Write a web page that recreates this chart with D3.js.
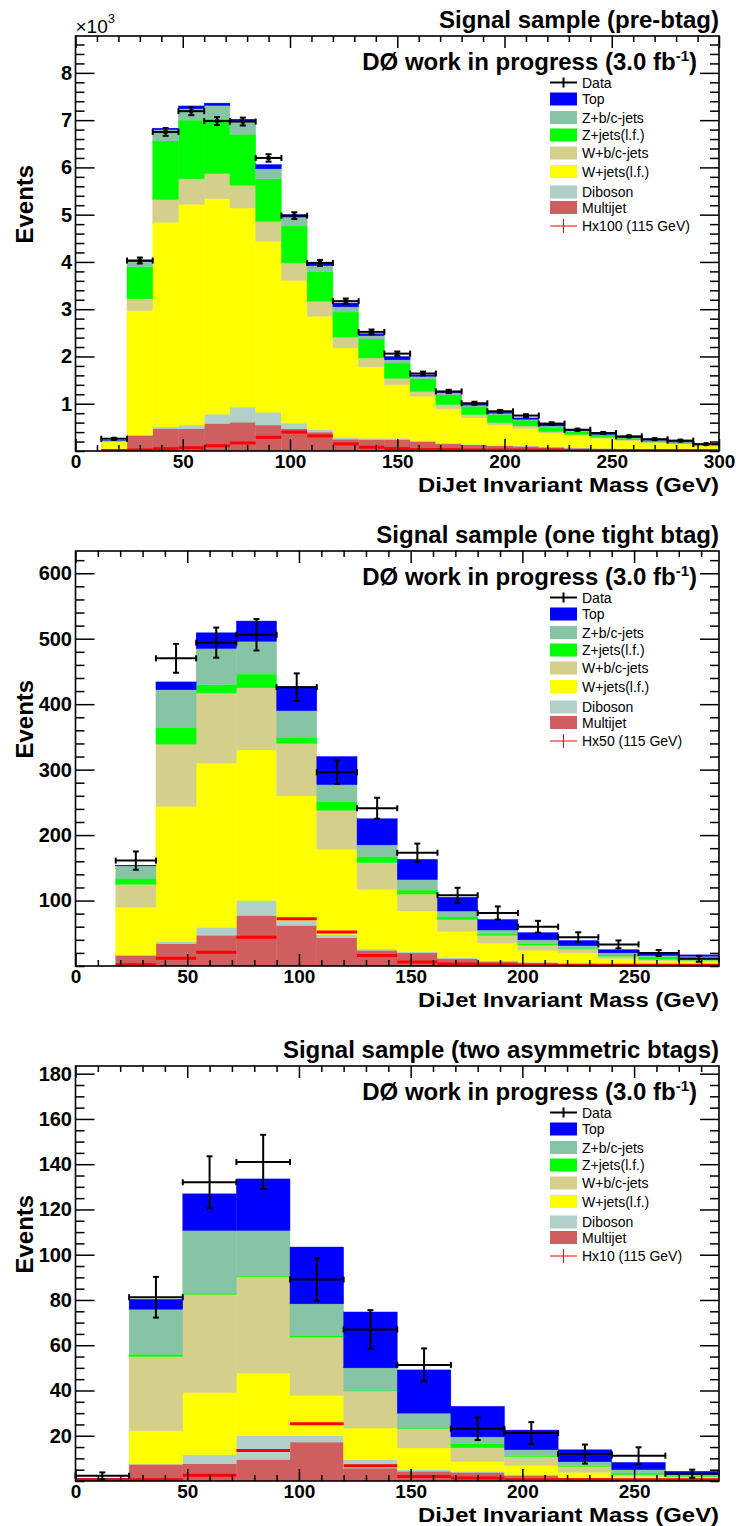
<!DOCTYPE html>
<html><head><meta charset="utf-8">
<script src="https://cdn.jsdelivr.net/npm/d3@7"></script>
<style>
body{margin:0;background:#fff}
svg{display:block}
text{font-family:"Liberation Sans",Arial,Helvetica,sans-serif}
</style>
</head><body>
<svg id="c" width="736" height="1526"></svg>
<script>
// ---------- categories / labels ----------
const stackKeys = ["Multijet","Diboson","Wlf","Wbc","Zlf","Zbc","Top"];
const stackColors = ["#cf5e5e","#b1d0c8","#ffff00","#d4cf8a","#00ff00","#87c3a5","#0000ff"];
const legendLabels = ["Data","Top","Z+b/c-jets","Z+jets(l.f.)","W+b/c-jets","W+jets(l.f.)","Diboson","Multijet"];
const legendColors = [null,"#0000ff","#87c3a5","#00ff00","#d4cf8a","#ffff00","#b1d0c8","#cf5e5e"];

// ---------- panel 1: pre-btag (values in 10^3 events), bins 12 GeV ----------
const p1Bins = [0,12,24,36,48,60,72,84,96,108,120,132,144,156,168,180,192,204,216,228,240,252,264,276,288];
const p1Multijet = [0,0.01,0.33,0.47,0.47,0.58,0.61,0.55,0.47,0.40,0.25,0.24,0.24,0.20,0.15,0.13,0.11,0.10,0.08,0.06,0.05,0.04,0.03,0.03,0.02];
const p1Diboson = [0,0,0.01,0.04,0.08,0.20,0.32,0.27,0.12,0.05,0.04,0.03,0.03,0.02,0.02,0.01,0.01,0.01,0.01,0.01,0.01,0.01,0.01,0.005,0.005];
const p1Wlf = [0,0.18,2.63,4.33,4.67,4.56,4.21,3.61,3.02,2.40,1.89,1.51,1.13,0.94,0.72,0.56,0.43,0.37,0.29,0.25,0.21,0.17,0.14,0.115,0.085];
const p1Wbc = [0,0.02,0.25,0.48,0.54,0.53,0.48,0.43,0.37,0.32,0.23,0.19,0.14,0.10,0.09,0.07,0.05,0.05,0.03,0.03,0.02,0.015,0.01,0.01,0.01];
const p1Zlf = [0,0.01,0.68,1.24,1.24,1.16,1.08,0.90,0.78,0.62,0.53,0.40,0.32,0.27,0.21,0.17,0.17,0.12,0.09,0.06,0.05,0.035,0.03,0.02,0.02];
const p1Zbc = [0,0.005,0.11,0.24,0.24,0.28,0.28,0.21,0.19,0.13,0.11,0.07,0.07,0.05,0.04,0.03,0.03,0.02,0.03,0.02,0.01,0.01,0.01,0.01,0.005];
const p1Top = [0,0.005,0.02,0.03,0.06,0.05,0.04,0.09,0.05,0.06,0.08,0.04,0.07,0.03,0.01,0.02,0.02,0.03,0.05,0.03,0.04,0.03,0.01,0.01,0.005];
const p1Data = [null,0.26,4.03,6.75,7.19,6.98,6.97,6.20,4.98,3.98,3.17,2.52,2.06,1.64,1.26,1.01,0.84,0.75,0.58,0.45,0.38,0.31,0.25,0.22,0.145];
const p1Err = [null,0.016,0.063,0.082,0.085,0.084,0.083,0.079,0.071,0.063,0.056,0.050,0.045,0.040,0.035,0.032,0.029,0.027,0.024,0.021,0.019,0.018,0.016,0.015,0.012];
const p1Signal = [0,0.01,0.02,0.05,0.07,0.11,0.17,0.29,0.40,0.32,0.15,0.08,0.05,0.03,0.03,0.02,0.02,0.02,0.02,0.01,0.01,0.01,0.01,0.01,0.01];
const p1YTicks = [1,2,3,4,5,6,7,8];
const p1XTicks = [0,50,100,150,200,250,300];

// ---------- panel 2: one tight btag, bins 18 GeV ----------
const p2Bins = [0,18,36,54,72,90,108,126,144,162,180,198,216,234,252,270];
const p2Multijet = [0,16,34,47,77,62,43,24,20,11,7,5,3,2,1,1];
const p2Diboson = [0,1,3,12,23,8,5,2,2,2,1,1,1,1,1,1];
const p2Wlf = [0,73,207,251,230,190,130,91,62,40,27,18,16,8,6,5];
const p2Wbc = [0,35,95,107,95,80,60,41,26,18,12,8,6,4,2,2];
const p2Zlf = [0,9,25,13,21,9,13,9,6,4,2,2,1,2,4,5];
const p2Zbc = [0,19,58,55,50,41,26,18,16,9,6,6,4,3,2,1];
const p2Top = [0,1,12,24,31,37,43,40,31,21,16,11,8,5,3,2];
const p2Data = [null,161,470,494,506,426,296,241,173,108,81,60,44,33,20,11];
const p2Err = [null,14,22,23,24,21,18,16,14,11.5,10,9,7.5,6,4.5,4.5];
const p2Signal = [0,2,12,21,44,72,52,16,6,3,2,1,1,1,1,1];
const p2YTicks = [100,200,300,400,500,600];
const p2XTicks = [0,50,100,150,200,250];

// ---------- panel 3: two asymmetric btags, bins 24 GeV ----------
const p3Bins = [0,24,48,72,96,120,144,168,192,216,240,264];
const p3Multijet = [0,7.4,7.6,9.4,17.2,5.7,4.3,3.8,2.5,1.3,0.8,0.5];
const p3Diboson = [0,0.1,4.0,10.6,2.8,3.7,0.7,0.4,0.3,0.2,0.2,0.1];
const p3Wlf = [0.6,14.7,27.5,27.7,17.8,14.0,9.6,4.4,4.0,2.3,1.0,1.0];
const p3Wbc = [0.2,32.8,43.4,42.6,25.8,16.4,8.5,6.1,4.0,2.7,0.8,0.4];
const p3Zlf = [0,1.0,0.5,0.5,0.7,0.3,0.3,1.7,0.4,0.3,0.7,0.5];
const p3Zbc = [0.1,19.9,27.7,19.9,14.0,9.9,6.6,3.1,2.6,1.7,1.5,0.4];
const p3Top = [0.1,4.4,16.2,22.8,25.1,24.7,19.1,13.5,8.7,5.3,3.2,1.4];
const p3Data = [2.3,81.2,132,141,89,67,51.3,23.1,21.2,11.9,11.2,3.2];
const p3Err = [1.5,9,11.5,12,9.5,8.5,7.3,5,4.8,4.2,3.7,1.8];
const p3Signal = [0.5,0.5,2.5,13.5,25.3,6.7,2,1.3,0.5,0.5,0.5,0.5];
const p3YTicks = [20,40,60,80,100,120,140,160,180];
const p3XTicks = [0,50,100,150,200,250];

// ---------- layout ----------
const L = 75.5, R = 719;
const panels = [
  {top:36, bottom:451, xmax:300, ymax:8.78, binW:12, bins:p1Bins,
   comps:[p1Multijet,p1Diboson,p1Wlf,p1Wbc,p1Zlf,p1Zbc,p1Top], data:p1Data, err:p1Err, sig:p1Signal,
   yTicks:p1YTicks, yMinorStep:0.2, xTicks:p1XTicks, title:"Signal sample (pre-btag)", sigLabel:"Hx100 (115 GeV)", exp:true, marker:true},
  {top:551, bottom:966, xmax:288, ymax:634, binW:18, bins:p2Bins,
   comps:[p2Multijet,p2Diboson,p2Wlf,p2Wbc,p2Zlf,p2Zbc,p2Top], data:p2Data, err:p2Err, sig:p2Signal,
   yTicks:p2YTicks, yMinorStep:20, xTicks:p2XTicks, title:"Signal sample (one tight btag)", sigLabel:"Hx50 (115 GeV)", exp:false, marker:false},
  {top:1066, bottom:1481, xmax:288, ymax:183.4, binW:24, bins:p3Bins,
   comps:[p3Multijet,p3Diboson,p3Wlf,p3Wbc,p3Zlf,p3Zbc,p3Top], data:p3Data, err:p3Err, sig:p3Signal,
   yTicks:p3YTicks, yMinorStep:5, xTicks:p3XTicks, title:"Signal sample (two asymmetric btags)", sigLabel:"Hx10 (115 GeV)", exp:false, marker:false}
];
const legendOffsets = [0,16.5,35,52.5,70.5,89,109.5,125,143.5];

const svg = d3.select("#c");

panels.forEach((p, pi) => {
  const x = d3.scaleLinear().domain([0, p.xmax]).range([L, R]);
  const y = d3.scaleLinear().domain([0, p.ymax]).range([p.bottom, p.top]);
  const g = svg.append("g");
  const clipId = "clip" + pi;
  g.append("clipPath").attr("id", clipId).append("rect")
    .attr("x", L).attr("y", p.top).attr("width", R - L).attr("height", p.bottom - p.top);

  // stacked histogram
  const rows = p.bins.map((b, i) => {
    const o = {low: b};
    stackKeys.forEach((k, j) => o[k] = p.comps[j][i]);
    return o;
  });
  const stacked = d3.stack().keys(stackKeys)(rows);
  const plot = g.append("g").attr("clip-path", `url(#${clipId})`);
  stacked.forEach((layer, li) => {
    plot.append("g").selectAll("rect").data(layer).join("rect")
      .attr("x", d => x(d.data.low))
      .attr("width", d => x(d.data.low + p.binW) - x(d.data.low))
      .attr("y", d => y(d[1]))
      .attr("height", d => Math.max(0, y(d[0]) - y(d[1])))
      .attr("fill", stackColors[li])
      .attr("stroke", stackColors[li]).attr("stroke-width", 0.4);
  });

  // signal (red)
  plot.append("g").selectAll("line").data(p.bins.map((b, i) => ({low: b, v: p.sig[i]})).filter(d => d.v > 0))
    .join("line")
    .attr("x1", d => x(d.low)).attr("x2", d => x(d.low + p.binW))
    .attr("y1", d => y(d.v)).attr("y2", d => y(d.v))
    .attr("stroke", "#ff0000").attr("stroke-width", 3);

  // data points
  const pts = p.bins.map((b, i) => ({low: b, v: p.data[i], e: p.err[i]})).filter(d => d.v != null);
  const dg = g.append("g").attr("stroke", "#000").attr("stroke-width", 2).attr("fill", "none");
  pts.forEach(d => {
    const x0 = x(d.low), x1 = x(d.low + p.binW), xc = x(d.low + p.binW / 2);
    const yv = y(d.v), ylo = y(d.v - d.e), yhi = y(d.v + d.e);
    dg.append("line").attr("x1", x0).attr("x2", x1).attr("y1", yv).attr("y2", yv);
    dg.append("line").attr("x1", xc).attr("x2", xc).attr("y1", ylo).attr("y2", yhi);
    dg.append("line").attr("x1", x0).attr("x2", x0).attr("y1", yv - 3).attr("y2", yv + 3);
    dg.append("line").attr("x1", x1).attr("x2", x1).attr("y1", yv - 3).attr("y2", yv + 3);
    dg.append("line").attr("x1", xc - 3).attr("x2", xc + 3).attr("y1", ylo).attr("y2", ylo);
    dg.append("line").attr("x1", xc - 3).attr("x2", xc + 3).attr("y1", yhi).attr("y2", yhi);
    if (p.marker) dg.append("rect").attr("x", xc - 2).attr("y", yv - 2).attr("width", 4).attr("height", 4).attr("fill", "#000").attr("stroke", "none");
  });

  // axes
  const xMinor = d3.range(0, p.xmax + 0.001, 10).filter(v => v % 50 !== 0);
  const yMinor = d3.range(0, p.ymax, p.yMinorStep).filter(v => !p.yTicks.some(t => Math.abs(t - v) < 1e-6));
  const styleAxis = (sel, fs) => {
    sel.select(".domain").remove();
    sel.selectAll(".tick line").attr("stroke", "#000").attr("stroke-width", 1.5);
    sel.selectAll("text").attr("font-family", '"Liberation Sans",Arial,Helvetica,sans-serif')
      .attr("font-weight", "bold").attr("font-size", fs || 20).attr("fill", "#000");
  };
  g.append("g").attr("transform", `translate(0,${p.bottom})`)
    .call(d3.axisBottom(x).tickValues(p.xTicks).tickSize(-12).tickPadding(4).tickFormat(d3.format("d")))
    .call(s => styleAxis(s, 19));
  g.append("g").attr("transform", `translate(0,${p.bottom})`)
    .call(d3.axisBottom(x).tickValues(xMinor).tickSize(-6).tickFormat("")).call(styleAxis);
  g.append("g").attr("transform", `translate(0,${p.top})`)
    .call(d3.axisTop(x).tickValues(p.xTicks).tickSize(-12).tickFormat("")).call(styleAxis);
  g.append("g").attr("transform", `translate(0,${p.top})`)
    .call(d3.axisTop(x).tickValues(xMinor).tickSize(-6).tickFormat("")).call(styleAxis);
  g.append("g").attr("transform", `translate(${L},0)`)
    .call(d3.axisLeft(y).tickValues(p.yTicks).tickSize(-19).tickPadding(3.5).tickFormat(d3.format("d"))).call(styleAxis);
  g.append("g").attr("transform", `translate(${L},0)`)
    .call(d3.axisLeft(y).tickValues(yMinor).tickSize(-9).tickFormat("")).call(styleAxis);
  g.append("g").attr("transform", `translate(${R},0)`)
    .call(d3.axisRight(y).tickValues(p.yTicks).tickSize(-19).tickFormat("")).call(styleAxis);
  g.append("g").attr("transform", `translate(${R},0)`)
    .call(d3.axisRight(y).tickValues(yMinor).tickSize(-9).tickFormat("")).call(styleAxis);

  // frame
  g.append("rect").attr("x", L).attr("y", p.top).attr("width", R - L).attr("height", p.bottom - p.top)
    .attr("fill", "none").attr("stroke", "#000").attr("stroke-width", 1.6);

  // titles
  g.append("text").attr("x", R).attr("y", p.top - 8).attr("text-anchor", "end")
    .attr("font-weight", "bold").attr("font-size", 24).text(p.title);
  const dz = g.append("text").attr("x", 697).attr("y", p.top + 34).attr("text-anchor", "end")
    .attr("font-weight", "bold").attr("font-size", 24);
  dz.append("tspan").text("DØ work in progress (3.0 fb");
  dz.append("tspan").attr("dy", -9).attr("font-size", 15).text("-1");
  dz.append("tspan").attr("dy", 9).text(")");

  g.append("text").attr("x", R).attr("y", p.bottom + 40.5).attr("text-anchor", "end")
    .attr("font-weight", "bold").attr("font-size", 20.5)
    .attr("textLength", 301).attr("lengthAdjust", "spacingAndGlyphs")
    .text("DiJet Invariant Mass (GeV)");
  g.append("text").attr("transform", `translate(33,${(p.top + p.bottom) / 2}) rotate(-90)`)
    .attr("text-anchor", "start").attr("font-weight", "bold").attr("font-size", 24).text("Events");

  if (p.exp) {
    const ex = g.append("text").attr("x", L).attr("y", p.top - 3).attr("font-size", 19);
    ex.append("tspan").text("×10");
    ex.append("tspan").attr("dy", -10).attr("font-size", 13).text("3");
  }

  // legend
  const lg = g.append("g");
  const labels = legendLabels.concat([p.sigLabel]);
  labels.forEach((lab, k) => {
    const ry = p.top + 46.5 + legendOffsets[k];
    if (k === 0) {
      lg.append("line").attr("x1", 550).attr("x2", 577).attr("y1", ry).attr("y2", ry).attr("stroke", "#000").attr("stroke-width", 2);
      lg.append("line").attr("x1", 563.5).attr("x2", 563.5).attr("y1", ry - 5).attr("y2", ry + 5).attr("stroke", "#000").attr("stroke-width", 2);
    } else if (k === labels.length - 1) {
      lg.append("line").attr("x1", 550).attr("x2", 577).attr("y1", ry).attr("y2", ry).attr("stroke", "#ff0000").attr("stroke-width", 1);
      lg.append("line").attr("x1", 563.5).attr("x2", 563.5).attr("y1", ry - 7).attr("y2", ry + 7).attr("stroke", "#ff0000").attr("stroke-width", 1);
    } else {
      lg.append("rect").attr("x", 550).attr("y", ry - 6.5).attr("width", 27).attr("height", 13).attr("fill", legendColors[k]);
    }
    lg.append("text").attr("x", 582).attr("y", ry + 5).attr("font-size", 14).attr("fill", "#000").text(lab);
  });
});
</script>
</body></html>
